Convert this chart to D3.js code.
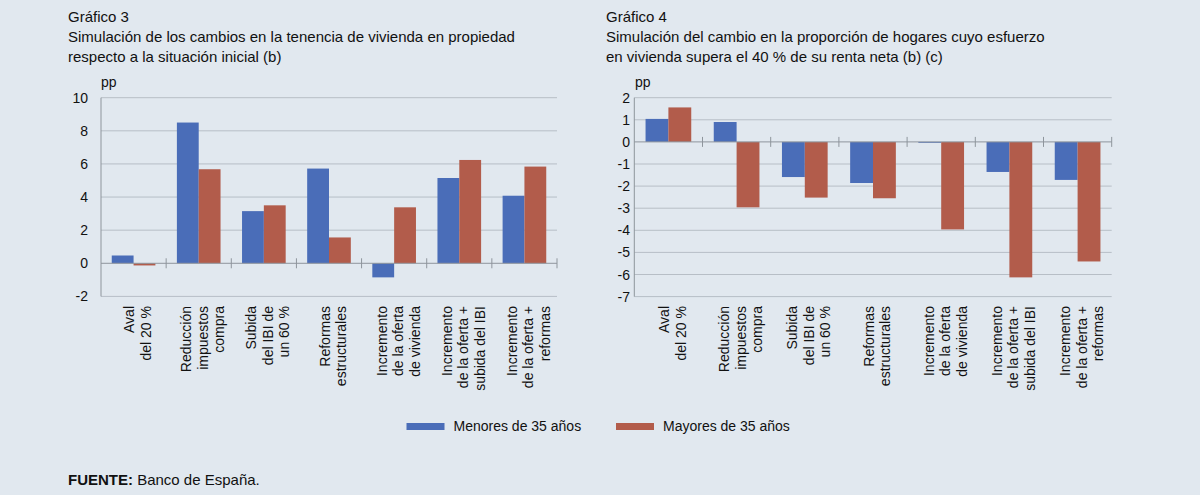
<!DOCTYPE html>
<html>
<head>
<meta charset="utf-8">
<script src="https://cdn.jsdelivr.net/npm/d3@7"></script>
<style>
  body { margin: 0; background: #e1e8ef; }
  svg { display: block; font-family: "Liberation Sans", Arial, sans-serif; }
</style>
</head>
<body>
<div id="chart"></div>
<script>
// categories (each label split in lines)
const categories = [
  ["Aval", "del 20 %"],
  ["Reducción", "impuestos", "compra"],
  ["Subida", "del IBI de", "un 60 %"],
  ["Reformas", "estructurales"],
  ["Incremento", "de la oferta", "de vivienda"],
  ["Incremento", "de la oferta +", "subida del IBI"],
  ["Incremento", "de la oferta +", "reformas"]
]
const seriesNames = ["Menores de 35 años", "Mayores de 35 años"]

// Gráfico 3
const menores3 = [0.47, 8.5, 3.15, 5.72, -0.85, 5.15, 4.08]
const mayores3 = [-0.13, 5.68, 3.5, 1.56, 3.38, 6.24, 5.84]
const ticks3 = [-2, 0, 2, 4, 6, 8, 10]

// Gráfico 4
const menores4 = [1.04, 0.9, -1.59, -1.86, -0.04, -1.36, -1.72]
const mayores4 = [1.56, -2.96, -2.52, -2.55, -3.96, -6.13, -5.41]
const ticks4 = [-7, -6, -5, -4, -3, -2, -1, 0, 1, 2]

const colors = ["#4a6db8", "#b25c4b"]
const gridColor = "#b7bec6"
const axisColor = "#8e959c"

const svg = d3.select("#chart").append("svg")
  .attr("width", 1200).attr("height", 495)

const charts = [
  { x0: 68, title: ["Gráfico 3", "Simulación de los cambios en la tenencia de vivienda en propiedad", "respecto a la situación inicial (b)"],
    left: 101, right: 557, top: 97.7, bottom: 296.4, domain: [-2, 10], ticks: ticks3,
    series: [menores3, mayores3], labelRight: 88, ppX: 101 },
  { x0: 606, title: ["Gráfico 4", "Simulación del cambio en la proporción de hogares cuyo esfuerzo", "en vivienda supera el 40 % de su renta neta (b) (c)"],
    left: 634.3, right: 1111.7, top: 97.7, bottom: 296.6, domain: [-7, 2], ticks: ticks4,
    series: [menores4, mayores4], labelRight: 630, ppX: 635 }
]

charts.forEach(c => {
  const g = svg.append("g")

  // titles
  c.title.forEach((t, i) => {
    g.append("text").attr("x", c.x0).attr("y", 22 + i * 20)
      .attr("font-size", 15).attr("fill", "#111").text(t)
  })

  const y = d3.scaleLinear().domain(c.domain).range([c.bottom, c.top])
  const x = d3.scaleBand().domain(d3.range(categories.length))
    .range([c.left, c.right]).paddingInner(0.33).paddingOuter(0.165)
  const x1 = d3.scaleBand().domain([0, 1]).range([0, x.bandwidth()])

  // gridlines
  g.selectAll(".grid").data(c.ticks.filter(d => d !== 0)).enter()
    .append("line")
      .attr("x1", c.left).attr("x2", c.right)
      .attr("y1", d => y(d)).attr("y2", d => y(d))
      .attr("stroke", gridColor).attr("stroke-width", 1)

  // y axis labels
  g.selectAll(".yl").data(c.ticks).enter()
    .append("text")
      .attr("x", c.labelRight).attr("y", d => y(d) + 5)
      .attr("text-anchor", "end").attr("font-size", 14).attr("fill", "#111")
      .text(d => d)

  g.append("text").attr("x", c.ppX).attr("y", 87)
    .attr("font-size", 14).attr("fill", "#111").text("pp")

  // left axis line
  g.append("line")
    .attr("x1", c.left).attr("x2", c.left).attr("y1", c.top).attr("y2", c.bottom)
    .attr("stroke", axisColor)

  // bars
  c.series.forEach((vals, s) => {
    g.selectAll(".bar" + s).data(vals).enter()
      .append("rect")
        .attr("x", (d, i) => x(i) + x1(s))
        .attr("y", d => y(Math.max(0, d)))
        .attr("width", x1.bandwidth())
        .attr("height", d => Math.abs(y(d) - y(0)))
        .attr("fill", colors[s])
  })

  // zero line with category ticks
  g.append("line")
    .attr("x1", c.left).attr("x2", c.right).attr("y1", y(0)).attr("y2", y(0))
    .attr("stroke", axisColor)
  const step = x.step()
  g.selectAll(".xt").data(d3.range(1, categories.length + 1)).enter()
    .append("line")
      .attr("x1", d => c.left + d * step).attr("x2", d => c.left + d * step)
      .attr("y1", y(0) - 5).attr("y2", y(0) + 5)
      .attr("stroke", axisColor)

  // rotated category labels
  categories.forEach((lines, i) => {
    const cx = x(i) + x.bandwidth() / 2
    const first = cx + 9 - (lines.length - 1) * 16.5 / 2
    lines.forEach((l, j) => {
      g.append("text")
        .attr("transform", `translate(${first + j * 16.5},306)rotate(-90)`)
        .attr("text-anchor", "end").attr("font-size", 14).attr("fill", "#111")
        .text(l)
    })
  })
})

// legend
const legend = svg.append("g")
const legX = [406.5, 616]
seriesNames.forEach((n, i) => {
  legend.append("rect").attr("x", legX[i]).attr("y", 423).attr("width", 38).attr("height", 7)
    .attr("fill", colors[i])
  legend.append("text").attr("x", legX[i] + 47).attr("y", 431)
    .attr("font-size", 14).attr("fill", "#111").text(n)
})

// source
const src = svg.append("text").attr("x", 68).attr("y", 485).attr("font-size", 15).attr("fill", "#111")
src.append("tspan").attr("font-weight", "bold").text("FUENTE:")
src.append("tspan").text(" Banco de España.")
</script>
</body>
</html>
